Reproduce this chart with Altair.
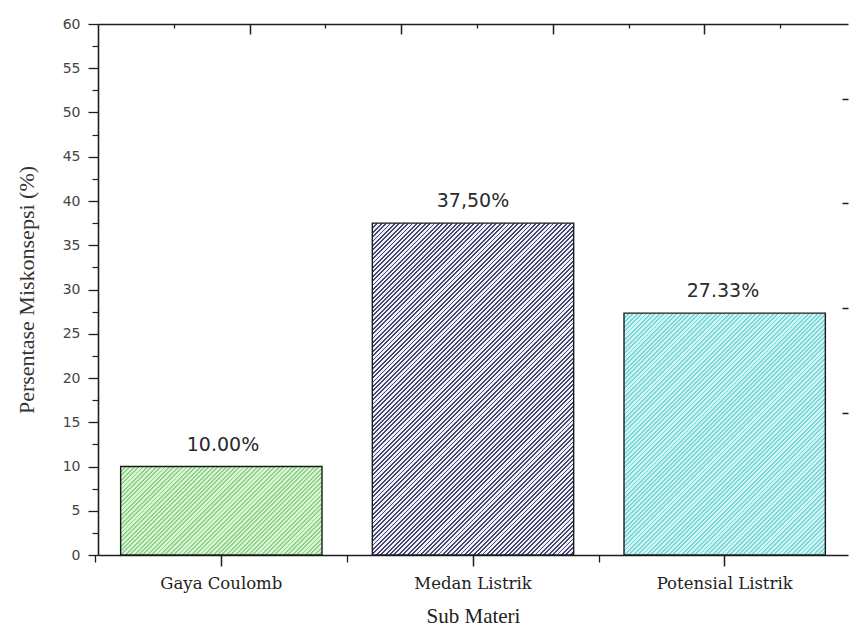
import altair as alt
import pandas as pd

# ---- data ----
categories = ["Gaya Coulomb", "Medan Listrik", "Potensial Listrik"]
values = [10.00, 37.50, 27.33]
value_labels = ["10.00%", "37,50%", "27.33%"]

y_major_ticks = [0, 5, 10, 15, 20, 25, 30, 35, 40, 45, 50, 55, 60]
y_minor_ticks = [2.5, 7.5, 12.5, 17.5, 22.5, 27.5, 32.5, 37.5, 42.5, 47.5, 52.5, 57.5]
top_major_ticks = [1, 2, 3, 4]
top_minor_ticks = [0.5, 1.5, 2.5, 3.5, 4.5]
right_ticks = [1, 2, 3, 4]

# hatch colours (background, stripe) per bar
bar_bg = ["#d8f6d4", "#f0f0f8", "#cff5f5"]
bar_fg = ["#8fd189", "#45456f", "#7ad5d5"]

df = pd.DataFrame({"cat": categories, "val": values, "lab": value_labels})

# ---- layout ----
W, H = 750, 531
Y_MAX = 60
P_IN, P_OUT = 0.2, 0.09
step = W / (len(categories) - P_IN + 2 * P_OUT)
band = step * (1 - P_IN)
AX = "#1e1e1e"


def hatch(value, bg, fg, period=4.4, duty=0.42):
    h = value / Y_MAX * H
    total = band + h
    n = max(1, int(round(total / period)))
    c = total / (band ** 2 + h ** 2)
    stops = []
    for k in range(n):
        a = k / n
        b = (k + duty) / n
        e = (k + 1) / n
        stops += [
            {"offset": a, "color": fg},
            {"offset": b, "color": fg},
            {"offset": b, "color": bg},
            {"offset": e, "color": bg},
        ]
    return {"gradient": "linear", "x1": 0, "y1": 0, "x2": c * band, "y2": c * h, "stops": stops}


xs = alt.Scale(domain=categories, paddingInner=P_IN, paddingOuter=P_OUT)
ys = alt.Scale(domain=[0, Y_MAX], nice=False, zero=True)
top_scale = alt.Scale(domain=[0, W / 151.6], nice=False, zero=False)
right_scale = alt.Scale(domain=[-0.358, 4.714], nice=False, zero=False)

layers = []
for i, cat in enumerate(categories):
    if i == 0:
        xax = alt.Axis(orient="bottom", title="Sub Materi", labelAngle=0, tickSize=11,
                       tickColor=AX, tickWidth=1.5, domainColor=AX, domainWidth=1.6,
                       labelFont="DejaVu Serif", labelFontSize=16.5, labelColor="#222",
                       labelPadding=9, titleFont="Liberation Serif", titleFontSize=21,
                       titleFontWeight="normal", titleColor="#222", titlePadding=14)
        yax = alt.Axis(orient="left", values=y_major_ticks, tickSize=10, tickColor=AX,
                       tickWidth=1.3, domainColor=AX, domainWidth=1.6,
                       labelFont="DejaVu Sans", labelFontSize=14, labelColor="#444",
                       labelPadding=8, title="Persentase Miskonsepsi (%)",
                       titleFont="Liberation Serif", titleFontSize=22,
                       titleFontWeight="normal", titleColor="#333", titlePadding=24)
    elif i == 1:
        xax = None
        yax = alt.Axis(orient="left", values=y_minor_ticks, tickSize=6, tickColor=AX,
                       tickWidth=1.2, domain=False, labels=False, title=None)
    else:
        xax = None
        yax = None
    layers.append(
        alt.Chart()
        .mark_bar(fill=hatch(values[i], bar_bg[i], bar_fg[i]), stroke="#1a1a1a", strokeWidth=1.4)
        .transform_filter(alt.datum.cat == cat)
        .encode(x=alt.X("cat:N", scale=xs, axis=xax), y=alt.Y("val:Q", scale=ys, axis=yax))
    )

# minor ticks at band boundaries on the bottom axis
layers.append(
    alt.Chart()
    .mark_bar(opacity=0)
    .encode(
        x=alt.X("cat:N", scale=xs, axis=alt.Axis(orient="bottom", tickSize=7, tickColor=AX,
                                                tickWidth=1.3, tickOffset=-step / 2,
                                                domain=False, labels=False, title=None)),
        y=alt.Y("val:Q", scale=ys, axis=None),
    )
)

# value labels + top frame line
layers.append(
    alt.Chart()
    .mark_text(font="DejaVu Sans", fontSize=19, color="#2a2a2a", baseline="middle", dy=-22)
    .encode(
        x=alt.X("cat:N", scale=xs, axis=alt.Axis(orient="top", ticks=False, labels=False,
                                                domain=True, domainColor=AX, domainWidth=1.6,
                                                title=None)),
        y=alt.Y("val:Q", scale=ys, axis=None),
        text="lab:N",
    )
)

# inward ticks on the top and right frame
layers.append(
    alt.Chart()
    .mark_point(opacity=0)
    .encode(
        x=alt.XDatum(0, type="quantitative", scale=top_scale,
                     axis=alt.Axis(orient="top", values=top_major_ticks, offset=-10, tickSize=10,
                                   tickColor=AX, tickWidth=1.5, domain=False, labels=False,
                                   title=None, grid=False)),
        y=alt.YDatum(0, type="quantitative", scale=right_scale,
                     axis=alt.Axis(orient="right", values=right_ticks, offset=-6, tickSize=6,
                                   tickColor=AX, tickWidth=1.5, domain=False, labels=False,
                                   title=None, grid=False)),
    )
)
layers.append(
    alt.Chart()
    .mark_point(opacity=0)
    .encode(
        x=alt.XDatum(0, type="quantitative", scale=top_scale,
                     axis=alt.Axis(orient="top", values=top_minor_ticks, offset=-4, tickSize=4,
                                   tickColor=AX, tickWidth=1.3, domain=False, labels=False,
                                   title=None, grid=False)),
        y=alt.YDatum(0, type="quantitative", scale=right_scale, axis=None),
    )
)

chart = (
    alt.layer(*layers, data=df)
    .resolve_scale(x="independent", y="independent")
    .resolve_axis(x="independent", y="independent")
    .properties(width=W, height=H, padding={"left": 98, "top": 24, "right": 1, "bottom": 73},
                autosize=alt.AutoSizeParams(type="none"), background="white")
    .configure_view(stroke=None)
    .configure_axis(grid=False)
)

chart.save("out.html", embed_options={"renderer": "svg", "actions": False})
